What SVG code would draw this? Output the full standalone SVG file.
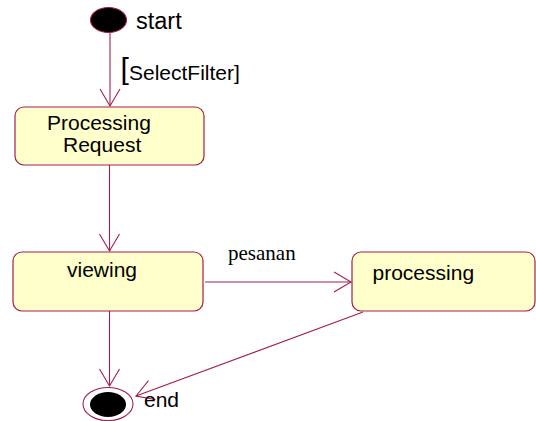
<svg xmlns="http://www.w3.org/2000/svg" width="536" height="421" viewBox="0 0 536 421">
<style>
.st{fill:#ffffcc;stroke:#a31e4f;stroke-width:1.2}
.ln{fill:none;stroke:#a31e4f;stroke-width:1.1}
.t{font-family:"Liberation Sans",Arial,sans-serif;font-size:21px;fill:#000}
.s{font-family:"Liberation Serif","Times New Roman",serif;font-size:21px;fill:#000}
</style>
<defs>
<marker id="arr" markerUnits="userSpaceOnUse" markerWidth="24" markerHeight="24" viewBox="-20 -12 24 24" refX="0" refY="0" orient="auto">
<path d="M-17,-10 L0,0 L-17,10" fill="none" stroke="#a31e4f" stroke-width="1.1"/>
</marker>
</defs>
<g id="connectors">
<line class="ln" x1="110" y1="33" x2="110" y2="106" marker-end="url(#arr)"/>
<line class="ln" x1="109.5" y1="165" x2="109.5" y2="251" marker-end="url(#arr)"/>
<line class="ln" x1="205" y1="282" x2="351" y2="282" marker-end="url(#arr)"/>
<line class="ln" x1="109.5" y1="311" x2="109.5" y2="386" marker-end="url(#arr)"/>
<line class="ln" x1="363" y1="312" x2="136" y2="396" marker-end="url(#arr)"/>
<text x="120.5" y="79" style="font-family:'Liberation Sans',Arial,sans-serif;font-size:30px">[</text>
<text class="t" x="129" y="80">SelectFilter]</text>
<text class="s" x="228" y="260">pesanan</text>
</g>
<g id="start">
<ellipse cx="108.5" cy="20" rx="18" ry="12.5" fill="#000" stroke="#a31e4f" stroke-width="1.1"/>
<text class="t" x="136" y="29" style="font-size:23.5px">start</text>
</g>
<g id="processing-request">
<rect class="st" x="15" y="107" width="189" height="58" rx="9"/>
<text class="t" x="47" y="130">Processing</text>
<text class="t" x="63" y="152">Request</text>
</g>
<g id="viewing">
<rect class="st" x="13" y="252" width="190" height="59" rx="9"/>
<text class="t" x="67" y="276.5">viewing</text>
</g>
<g id="processing">
<rect class="st" x="352" y="252" width="183" height="59" rx="9"/>
<text class="t" x="372.5" y="280">processing</text>
</g>
<g id="end">
<ellipse cx="108" cy="404" rx="25" ry="16.5" fill="none" stroke="#a31e4f" stroke-width="1.1"/>
<ellipse cx="108" cy="404.5" rx="18" ry="12.5" fill="#000"/>
<text class="t" x="144" y="407">end</text>
</g>
</svg>
